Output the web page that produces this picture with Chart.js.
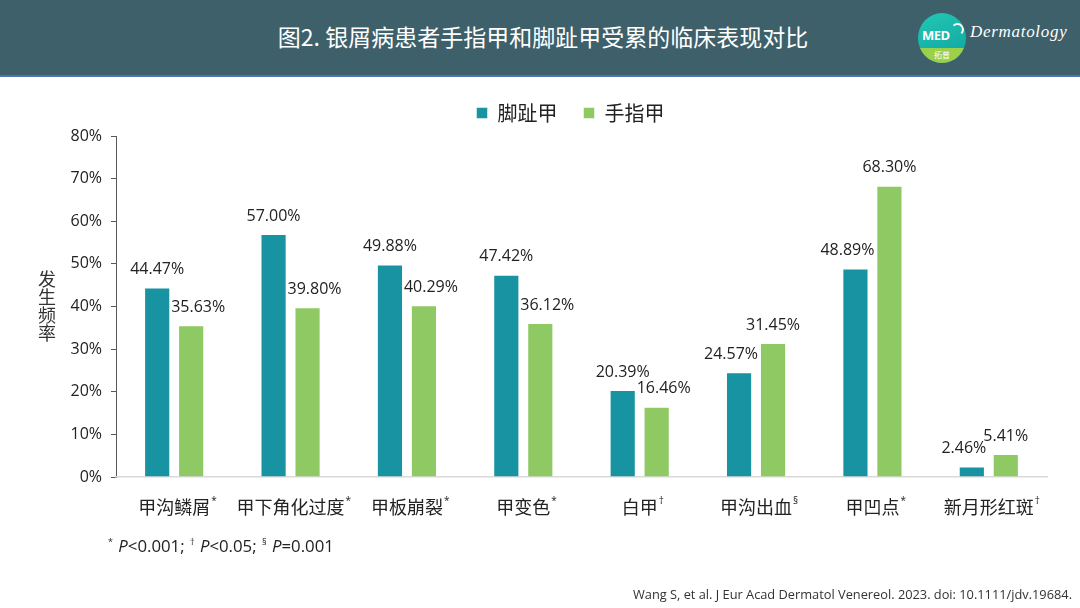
<!DOCTYPE html>
<html>
<head>
<meta charset="utf-8">
<script src="https://cdn.jsdelivr.net/npm/chart.js@4/dist/chart.umd.min.js"></script>
<style>
    html, body { margin: 0; padding: 0; background: #fff; }
    body { width: 1080px; height: 608px; position: relative; overflow: hidden; font-family: "Noto Sans CJK SC", "Noto Sans", sans-serif; }
    #chartWrap { position: absolute; left: 0; top: 0; width: 1080px; height: 608px; }
    .header { position: absolute; left: 0; top: 0; width: 1080px; height: 75px; background: #3d606b; border-bottom: 2px solid #4d74b4; }
    .header .title { position: absolute; left: 0; width: 1086px; top: 20px; text-align: center; color: #fff; font-size: 23px; line-height: 32px; }
    .logo { position: absolute; left: 918px; top: 13px; width: 48px; height: 50px; border-radius: 50%; overflow: hidden;
            background: linear-gradient(160deg, #22c7b4, #0fa39e); }
    .logo .med { position: absolute; left: 4px; top: 13px; color: #fff; font: bold 13px "Open Sans", sans-serif; letter-spacing: -0.5px; }
    .logo .arc { position: absolute; left: 33px; top: 10px; width: 9px; height: 9px; border: 2px solid #fff; border-left-color: transparent; border-bottom-color: transparent; border-radius: 50%; }
    .logo .band { position: absolute; left: 0; bottom: 0; width: 48px; height: 15px; background: #9ccf4a; color: #fff; font-size: 8px; line-height: 14px; text-align: center; }
    .brand { position: absolute; left: 970px; top: 22px; color: #fff; font: italic 17px "Liberation Serif", "DejaVu Serif", serif; letter-spacing: 0.7px; }
    .ytitle { position: absolute; left: 37px; top: 270px; writing-mode: vertical-rl; text-orientation: upright; font-size: 18px; line-height: 20px; color: #333; }
    .note { position: absolute; left: 108px; top: 534px; font: 16.8px "Open Sans", sans-serif; color: #222; word-spacing: 1px; }
    .note sup { font-size: 9px; }
    .cite { position: absolute; right: 8px; top: 585px; font: 12.8px "Open Sans", sans-serif; color: #333; }
</style>
</head>
<body>
<div id="chartWrap"><canvas id="nailChart"></canvas></div>
<div class="header">
    <div class="title">图2. 银屑病患者手指甲和脚趾甲受累的临床表现对比</div>
    <div class="logo"><div class="med">MED</div><div class="arc"></div><div class="band">拓普</div></div>
    <div class="brand">Dermatology</div>
</div>
<div class="ytitle">发生频率</div>
<div class="note"><sup>*</sup> <i>P</i>&lt;0.001; <sup>†</sup> <i>P</i>&lt;0.05; <sup>§</sup> <i>P</i>=0.001</div>
<div class="cite">Wang S, et al. J Eur Acad Dermatol Venereol. 2023. doi: 10.1111/jdv.19684.</div>

<script>
// chart data
const categories = ['甲沟鳞屑', '甲下角化过度', '甲板崩裂', '甲变色', '白甲', '甲沟出血', '甲凹点', '新月形红斑'];
const significance = ['*', '*', '*', '*', '†', '§', '*', '†'];
const toenail = [44.47, 57.00, 49.88, 47.42, 20.39, 24.57, 48.89, 2.46];
const fingernail = [35.63, 39.80, 40.29, 36.12, 16.46, 31.45, 68.30, 5.41];
const yTicks = [0, 10, 20, 30, 40, 50, 60, 70, 80];

const TEAL = '#1793a2';
const GREEN = '#8fc964';
const CJK = '"Noto Sans CJK SC", "Noto Sans", sans-serif';
const LATIN = '"Open Sans", "Noto Sans", sans-serif';

// value labels above bars, nudged sideways so they don't run into the taller neighbour
const valueLabels = {
    id: 'valueLabels',
    afterDatasetsDraw(chart) {
        const ctx = chart.ctx;
        ctx.save();
        ctx.font = '16px ' + LATIN;
        ctx.fillStyle = '#222';
        ctx.textAlign = 'center';
        ctx.textBaseline = 'middle';
        chart.data.datasets.forEach((ds, di) => {
            chart.getDatasetMeta(di).data.forEach((bar, i) => {
                const tealTaller = toenail[i] >= fingernail[i];
                let dx = 0;
                if (di === 0 && !tealTaller) dx = -8;
                if (di === 1 && tealTaller) dx = 7;
                ctx.fillText(ds.data[i].toFixed(2) + '%', bar.x + dx, bar.y - 18);
            });
        });
        ctx.restore();
    }
};

// little superscript marks after the category names
const supMarks = {
    id: 'supMarks',
    afterDraw(chart) {
        const ctx = chart.ctx;
        const x = chart.scales.x;
        ctx.save();
        ctx.font = '18px ' + CJK;
        const widths = categories.map(c => ctx.measureText(c).width);
        ctx.font = '10px ' + LATIN;
        ctx.fillStyle = '#222';
        ctx.textAlign = 'left';
        ctx.textBaseline = 'top';
        categories.forEach((c, i) => {
            const cx = x.getPixelForTick(i);
            ctx.fillText(significance[i], cx + widths[i] / 2 + 1, x.top + 19);
        });
        ctx.restore();
    }
};

// legend in the original sits a bit right of the plot centre and a little higher
const legendNudge = {
    id: 'legendNudge',
    afterLayout(chart) {
        chart.legend.left += 22;
        chart.legend.right += 22;
        chart.legend.top -= 3;
        chart.legend.bottom -= 3;
    }
};

new Chart(document.getElementById('nailChart'), {
    type: 'bar',
    data: {
        labels: categories,
        datasets: [{
            label: '脚趾甲',
            data: toenail,
            backgroundColor: TEAL,
            borderColor: 'rgba(255,255,255,0.5)',
            borderWidth: 1,
            categoryPercentage: 0.584,
            barPercentage: 0.77
        }, {
            label: '手指甲',
            data: fingernail,
            backgroundColor: GREEN,
            borderColor: 'rgba(255,255,255,0.5)',
            borderWidth: 1,
            categoryPercentage: 0.584,
            barPercentage: 0.77
        }]
    },
    options: {
        responsive: true,
        maintainAspectRatio: false,
        animation: false,
        layout: {
            padding: { left: 50, right: 33, top: 80, bottom: 81 }
        },
        plugins: {
            legend: {
                position: 'top',
                labels: {
                    boxWidth: 11,
                    boxHeight: 11,
                    padding: 26,
                    color: '#222',
                    font: { size: 20, family: CJK }
                }
            },
            tooltip: { enabled: false }
        },
        scales: {
            y: {
                min: 0,
                max: 80,
                afterFit(scale) { scale.width = 66; },
                afterBuildTicks(scale) { scale.ticks = yTicks.map(v => ({ value: v })); },
                border: { color: '#595959', width: 1 },
                grid: {
                    drawOnChartArea: false,
                    drawTicks: true,
                    tickLength: 5,
                    color: '#595959'
                },
                ticks: {
                    padding: 9,
                    color: '#222',
                    font: { size: 16, family: LATIN },
                    callback: function(value) {
                        return value + '%';
                    }
                }
            },
            x: {
                afterFit(scale) { scale.height = 50; },
                border: { color: '#d9d9d9', width: 1.5 },
                grid: { display: false, drawTicks: false },
                ticks: {
                    padding: 19,
                    color: '#222',
                    maxRotation: 0,
                    autoSkip: false,
                    font: { size: 18, family: CJK }
                }
            }
        }
    },
    plugins: [valueLabels, supMarks, legendNudge]
});
</script>
</body>
</html>
